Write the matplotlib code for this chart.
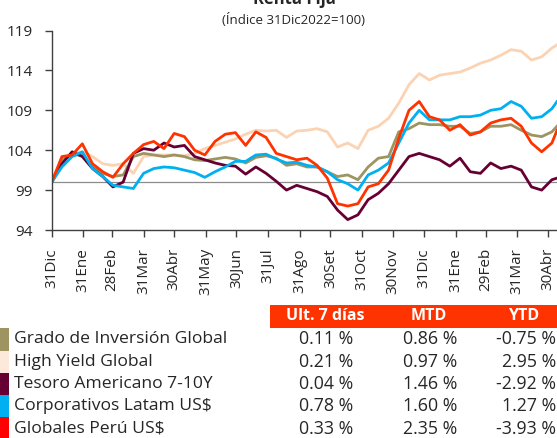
import matplotlib
matplotlib.use("Agg")
import matplotlib.pyplot as plt
import pandas as pd
from matplotlib.patches import Rectangle

plt.rcParams['font.family'] = ['Open Sans', 'DejaVu Sans']

W, H = 557, 438

# ---------------- data ----------------
start = pd.Timestamp('2022-12-31')
day_offsets = [0, 10, 20, 30, 40, 50, 60, 70, 80, 90,
               100, 110, 120, 130, 140, 150, 160, 170, 180, 190,
               200, 210, 220, 230, 240, 250, 260, 270, 280, 290,
               300, 310, 320, 330, 340, 350, 360, 370, 380, 390,
               400, 410, 420, 430, 440, 450, 460, 470, 480, 490, 495]

grado = [100.0, 102.8, 103.4, 103.4, 101.9, 101.1, 100.7, 100.9, 103.2, 103.6,
         103.4, 103.2, 103.4, 103.2, 102.8, 102.7, 102.9, 103.1, 102.9, 102.4,
         103.1, 103.3, 103.0, 102.1, 102.3, 101.9, 101.9, 101.3, 100.7, 100.9,
         100.3, 101.9, 103.0, 103.2, 106.3, 106.7, 107.4, 107.2, 107.2, 107.0,
         107.0, 106.1, 106.3, 107.0, 107.0, 107.2, 106.5, 105.9, 105.7, 106.3, 107.0]

high_yield = [100.0, 102.8, 103.6, 103.8, 103.2, 102.3, 102.1, 102.3, 101.1, 103.2,
              103.4, 103.4, 103.4, 103.3, 103.6, 104.2, 104.6, 105.0, 105.4, 106.0,
              106.5, 106.4, 106.5, 105.6, 106.4, 106.5, 106.7, 106.3, 104.4, 104.9,
              104.2, 106.5, 107.0, 108.0, 109.9, 112.2, 113.6, 112.8, 113.4, 113.6,
              113.8, 114.3, 114.9, 115.3, 115.9, 116.6, 116.4, 115.3, 115.7, 116.8, 117.2]

tesoro = [100.0, 102.3, 103.8, 103.2, 101.7, 100.7, 99.4, 100.0, 103.6, 104.2,
          104.0, 104.9, 104.4, 104.6, 103.2, 102.8, 102.4, 102.1, 102.0, 101.0,
          101.9, 101.1, 100.1, 99.0, 99.6, 99.2, 98.8, 98.2, 96.5, 95.3,
          95.9, 97.8, 98.6, 99.8, 101.5, 103.2, 103.6, 103.2, 102.8, 102.0,
          103.0, 101.3, 101.1, 102.4, 101.7, 102.0, 101.5, 99.4, 99.0, 100.3, 100.5]

latam = [100.0, 101.9, 103.2, 103.8, 101.7, 100.7, 99.6, 99.4, 99.2, 101.1,
         101.7, 101.9, 101.8, 101.5, 101.2, 100.6, 101.3, 101.9, 102.6, 102.6,
         103.4, 103.5, 102.9, 102.4, 102.5, 102.1, 101.9, 101.3, 100.3, 99.8,
         99.0, 100.9, 101.5, 102.4, 104.9, 107.4, 109.0, 107.8, 107.8, 107.8,
         108.2, 108.2, 108.4, 109.0, 109.2, 110.1, 109.5, 108.0, 108.2, 109.2, 110.1]

peru = [100.0, 103.2, 103.4, 104.8, 102.3, 101.3, 100.6, 102.3, 103.6, 104.7,
        105.1, 104.2, 106.1, 105.7, 104.0, 103.4, 105.1, 106.0, 106.2, 104.6,
        106.3, 105.6, 103.6, 103.2, 102.8, 103.0, 102.1, 100.5, 97.3, 97.0,
        97.3, 99.4, 99.8, 101.5, 105.5, 109.0, 110.1, 108.2, 107.8, 106.5,
        107.2, 105.9, 106.3, 107.4, 107.8, 108.0, 107.0, 104.9, 103.8, 104.9, 106.5]

tick_dates = ['2022-12-31', '2023-01-31', '2023-02-28', '2023-03-31', '2023-04-30',
              '2023-05-31', '2023-06-30', '2023-07-31', '2023-08-31', '2023-09-30',
              '2023-10-31', '2023-11-30', '2023-12-31', '2024-01-31', '2024-02-29',
              '2024-03-31', '2024-04-30']
tick_labels = ['31Dic', '31Ene', '28Feb', '31Mar', '30Abr', '31May', '30Jun', '31Jul',
               '31Ago', '30Set', '31Oct', '30Nov', '31Dic', '31Ene', '29Feb', '31Mar', '30Abr']
y_ticks = [94, 99, 104, 109, 114, 119]

series_names = ['Grado de Inversión Global', 'High Yield Global', 'Tesoro Americano 7-10Y',
                'Corporativos Latam US$', 'Globales Perú US$']
ult_7_dias = [0.11, 0.21, 0.04, 0.78, 0.33]
mtd = [0.86, 0.97, 1.46, 1.60, 2.35]
ytd = [-0.75, 2.95, -2.92, 1.27, -3.93]

line_colors = ['#9E9462', '#FCD3B2', '#660033', '#00B0F0', '#FF3300']
swatch_colors = ['#9E9462', '#FDE9D9', '#660033', '#00B0F0', '#FF0000']

# ---------------- figure ----------------
fig = plt.figure(figsize=(W / 100, H / 100), dpi=100)

def fx(x):
    return x / W

def fy(y):
    return 1 - y / H

ax_left, ax_right, ax_top, ax_bottom = 51.7, 557, 30.5, 230
ax = fig.add_axes([fx(ax_left), fy(ax_bottom), fx(ax_right - ax_left), (ax_bottom - ax_top) / H])

dates = start + pd.to_timedelta(day_offsets, unit='D')
all_series = [high_yield, grado, tesoro, latam, peru]
order_colors = [line_colors[1], line_colors[0], line_colors[2], line_colors[3], line_colors[4]]

ax.axhline(100, color='#8C8C8C', lw=0.9, zorder=1)
for vals, col in zip(all_series, order_colors):
    ax.plot(dates, vals, color=col, lw=2.0, solid_joinstyle='round', zorder=2)

ax.set_ylim(94, 119)
ax.set_xlim(start, start + pd.Timedelta(days=495))
ax.set_yticks(y_ticks)
ax.set_yticklabels([str(v) for v in y_ticks])
ax.set_xticks(pd.to_datetime(tick_dates))
ax.set_xticklabels(tick_labels, rotation=90)

for s in ['top', 'right']:
    ax.spines[s].set_visible(False)
for s in ['left', 'bottom']:
    ax.spines[s].set_color('#404040')
    ax.spines[s].set_linewidth(1.0)

ax.tick_params(axis='y', length=5, width=1, color='#404040', pad=8.5, labelsize=11,
               labelcolor='#262626')
ax.tick_params(axis='x', length=5, width=1, color='#404040', pad=8, labelsize=11,
               labelcolor='#262626')

# titles
fig.text(fx(294), fy(4), 'Renta Fija', ha='center', va='baseline', fontsize=12,
         fontweight='bold', color='#262626')
fig.text(fx(294), fy(20), '(Índice 31Dic2022=100)', ha='center', va='center',
         fontsize=9.5, color='#262626')

# ---------------- table ----------------
hdr_top, hdr_bot = 305, 327.7
fig.patches.append(Rectangle((fx(270), fy(hdr_bot)), fx(W - 270), (hdr_bot - hdr_top) / H,
                             transform=fig.transFigure, facecolor='#FF3300',
                             edgecolor='none'))
hdr_y = (hdr_top + hdr_bot) / 2
for txt, cx in zip(['Ult. 7 días', 'MTD', 'YTD'], [325, 429, 524]):
    fig.text(fx(cx), fy(hdr_y), txt, ha='center', va='center', fontsize=11.5,
             fontweight='bold', color='white')

row_top = 328.3
row_h = 22.3
for i, name in enumerate(series_names):
    top = row_top + i * row_h
    fig.patches.append(Rectangle((0, fy(top + row_h)), fx(9), row_h / H,
                                 transform=fig.transFigure, facecolor=swatch_colors[i],
                                 edgecolor='none'))
    cy = top + row_h / 2
    fig.text(fx(14), fy(cy), name, ha='left', va='center', fontsize=12.6, color='#262626')
    for vals, rx in zip([ult_7_dias, mtd, ytd], [353.5, 457, 556]):
        fig.text(fx(rx), fy(cy), f"{vals[i]:.2f} %", ha='right', va='center',
                 fontsize=12.8, color='#262626')

fig.savefig('out.png', dpi=100)
